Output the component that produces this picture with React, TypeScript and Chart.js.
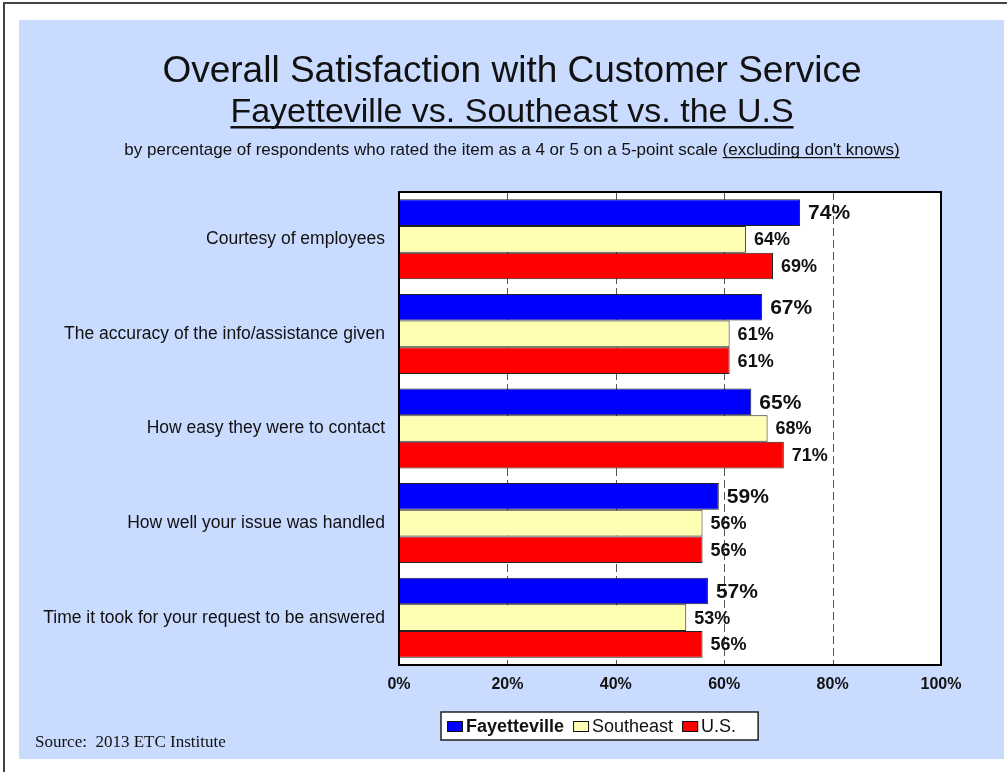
import React, { useEffect, useRef } from 'react';
import { Chart, registerables } from 'chart.js';

Chart.register(...registerables);

const categories = [
  'Courtesy of employees',
  'The accuracy of the info/assistance given',
  'How easy they were to contact',
  'How well your issue was handled',
  'Time it took for your request to be answered',
];
const fayetteville = [74, 67, 65, 59, 57];
const southeast = [64, 61, 68, 56, 53];
const usValues = [69, 61, 71, 56, 56];
const seriesNames = ['Fayetteville', 'Southeast', 'U.S.'];
const seriesColors = ['#0000FF', '#FFFFB3', '#FF0000'];
const xTickValues = [0, 20, 40, 60, 80, 100];

const titleLine1 = 'Overall Satisfaction with Customer Service';
const titleLine2 = 'Fayetteville vs. Southeast vs. the U.S';
const subtitleMain = 'by percentage of respondents who rated the item as a 4 or 5 on a 5-point scale ';
const subtitleUnderlined = "(excluding don't knows)";
const sourceText = 'Source:  2013 ETC Institute';

const SANS = '"Liberation Sans", Arial, sans-serif';
const SERIF = '"Liberation Serif", "Times New Roman", serif';

const decorPlugin = {
  id: 'decor',
  beforeDraw(chart: any) {
    const ctx = chart.ctx;
    const ca = chart.chartArea;
    ctx.save();
    ctx.fillStyle = '#FFFFFF';
    ctx.fillRect(0, 0, chart.width, chart.height);
    // outer frame
    ctx.strokeStyle = '#444';
    ctx.lineWidth = 2;
    ctx.beginPath();
    ctx.moveTo(4, chart.height);
    ctx.lineTo(4, 3);
    ctx.lineTo(chart.width, 3);
    ctx.stroke();
    // blue panel
    ctx.fillStyle = '#C9DBFE';
    ctx.fillRect(19, 20, 1004 - 19, 759 - 20);
    // plot area
    ctx.fillStyle = '#FFFFFF';
    ctx.fillRect(ca.left, ca.top, ca.right - ca.left, ca.bottom - ca.top);
    ctx.restore();
  },
  beforeDatasetsDraw(chart: any) {
    const ctx = chart.ctx;
    const ca = chart.chartArea;
    const xs = chart.scales.x;
    ctx.save();
    ctx.strokeStyle = '#555';
    ctx.lineWidth = 1;
    ctx.setLineDash([8, 4]);
    xs.ticks.forEach((t: any) => {
      if (t.value <= 0) return;
      const px = Math.round(xs.getPixelForValue(t.value)) + 0.5;
      ctx.beginPath();
      ctx.moveTo(px, ca.top);
      ctx.lineTo(px, ca.bottom);
      ctx.stroke();
    });
    ctx.restore();
  },
  afterDatasetsDraw(chart: any) {
    const ctx = chart.ctx;
    const ca = chart.chartArea;
    ctx.save();
    ctx.fillStyle = '#111';
    ctx.textAlign = 'left';
    ctx.textBaseline = 'middle';
    chart.data.datasets.forEach((ds: any, di: number) => {
      const meta = chart.getDatasetMeta(di);
      ctx.font = di === 0 ? `bold 21px ${SANS}` : `bold 18px ${SANS}`;
      meta.data.forEach((el: any, i: number) => {
        ctx.fillText(ds.data[i] + '%', el.x + 8, el.y + 1);
      });
    });
    // plot border
    ctx.strokeStyle = '#000';
    ctx.lineWidth = 2;
    ctx.strokeRect(ca.left, ca.top, ca.right - ca.left, ca.bottom - ca.top);
    ctx.restore();
  },
  afterDraw(chart: any) {
    const ctx = chart.ctx;
    ctx.save();
    ctx.fillStyle = '#111';
    ctx.textBaseline = 'alphabetic';
    const cx = 512;
    // title line 1
    ctx.textAlign = 'center';
    ctx.font = `37px ${SANS}`;
    ctx.fillText(titleLine1, cx, 82);
    // title line 2 underlined
    ctx.font = `34px ${SANS}`;
    ctx.fillText(titleLine2, cx, 122);
    const w2 = ctx.measureText(titleLine2).width;
    ctx.fillRect(cx - w2 / 2, 126, w2, 2.5);
    // subtitle
    ctx.font = `17px ${SANS}`;
    ctx.textAlign = 'left';
    const wm = ctx.measureText(subtitleMain).width;
    const wu = ctx.measureText(subtitleUnderlined).width;
    const sx = cx - (wm + wu) / 2;
    ctx.fillText(subtitleMain, sx, 155);
    ctx.fillText(subtitleUnderlined, sx + wm, 155);
    ctx.fillRect(sx + wm, 157, wu, 1.2);
    // legend
    const lx = 441, ly = 712, lh = 28;
    let x = lx + 6;
    const items: { w: number; font: string }[] = [];
    chart.data.datasets.forEach((ds: any, di: number) => {
      const font = di === 0 ? `bold 18px ${SANS}` : `18px ${SANS}`;
      ctx.font = font;
      items.push({ w: ctx.measureText(ds.label).width, font });
    });
    let total = 6;
    items.forEach((it, i) => { total += 16 + 3 + it.w + (i < items.length - 1 ? 9 : 22); });
    ctx.fillStyle = '#FFFFFF';
    ctx.fillRect(lx, ly, total, lh);
    ctx.strokeStyle = '#222';
    ctx.lineWidth = 1.5;
    ctx.strokeRect(lx, ly, total, lh);
    ctx.textBaseline = 'middle';
    chart.data.datasets.forEach((ds: any, di: number) => {
      ctx.fillStyle = ds.backgroundColor;
      ctx.fillRect(x, ly + 9, 16, 11);
      ctx.lineWidth = 1;
      ctx.strokeStyle = '#111';
      ctx.strokeRect(x + 0.5, ly + 9.5, 15, 10);
      x += 16 + 3;
      ctx.font = items[di].font;
      ctx.fillStyle = '#111';
      ctx.fillText(ds.label, x, ly + lh / 2 + 1);
      x += items[di].w + 9;
    });
    // source
    ctx.textBaseline = 'alphabetic';
    ctx.font = `17px ${SERIF}`;
    ctx.fillStyle = '#111';
    ctx.fillText(sourceText, 35, 747);
    ctx.restore();
  },
};

export default function App() {
  const ref = useRef<HTMLCanvasElement>(null);
  useEffect(() => {
    if (!ref.current) return;
    const values = [fayetteville, southeast, usValues];
    const chart = new Chart(ref.current, {
      type: 'bar',
      data: {
        labels: categories,
        datasets: seriesNames.map((name, i) => ({
          label: name,
          data: values[i],
          backgroundColor: seriesColors[i],
          borderColor: '#222',
          borderWidth: 1,
          borderSkipped: false,
          barPercentage: 1,
          categoryPercentage: 0.846,
        })),
      },
      options: {
        indexAxis: 'y',
        responsive: false,
        devicePixelRatio: 1,
        animation: false,
        layout: { padding: { left: 19, top: 192, right: 66, bottom: 0 } },
        plugins: {
          legend: { display: false },
          tooltip: { enabled: false },
          title: { display: false },
        },
        scales: {
          x: {
            min: 0,
            max: 100,
            afterBuildTicks: (s: any) => { s.ticks = xTickValues.map((v) => ({ value: v })); },
            afterFit: (s: any) => { s.height = 107; },
            ticks: {
              callback: (v: any) => v + '%',
              font: { family: SANS, size: 16, weight: 'bold' },
              color: '#111',
              padding: 10,
              maxRotation: 0,
              autoSkip: false,
            },
            grid: { display: false, drawTicks: false },
            border: { display: false },
          },
          y: {
            afterFit: (s: any) => { s.width = 380; },
            ticks: {
              font: { family: SANS, size: 17.5 },
              color: '#111',
              padding: 14,
              autoSkip: false,
            },
            grid: { display: false, drawTicks: false },
            border: { display: false },
          },
        },
      },
      plugins: [decorPlugin],
    } as any);
    return () => chart.destroy();
  }, []);
  return (
    <div style={{ position: 'fixed', left: 0, top: 0, width: 1007, height: 772, background: '#fff' }}>
      <canvas ref={ref} width={1007} height={772} style={{ display: 'block', width: 1007, height: 772 }} />
    </div>
  );
}
